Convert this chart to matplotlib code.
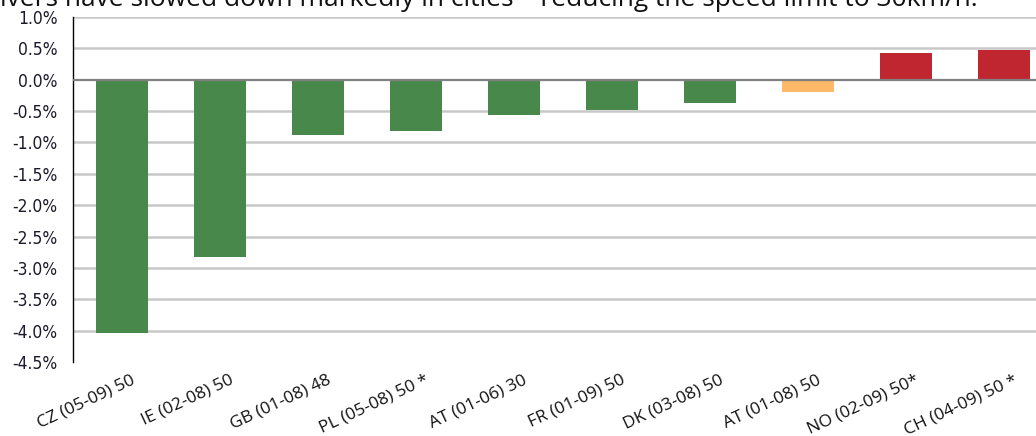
import matplotlib
matplotlib.use("Agg")
import matplotlib.pyplot as plt
import matplotlib.transforms as mtransforms

# Data (change in mean speed, %)
labels = ["CZ (05-09) 50", "IE (02-08) 50", "GB (01-08) 48", "PL (05-08) 50 *",
          "AT (01-06) 30", "FR (01-09) 50", "DK (03-08) 50", "AT (01-08) 50",
          "NO (02-09) 50*", "CH (04-09) 50 *"]
values = [-4.03, -2.83, -0.88, -0.81, -0.57, -0.49, -0.37, -0.19, 0.43, 0.48]
bar_colors = ["#48884a"] * 7 + ["#fdb868", "#c0262f", "#c0262f"]
title = "ivers have slowed down markedly in cities \u2013 reducing the speed limit to 30km/h."

W, H = 1036, 436
fig = plt.figure(figsize=(W / 100, H / 100), dpi=100)
# axes placed in pixel coordinates
left, right, top, bottom = 73, 1036, 17, 362
ax = fig.add_axes([left / W, 1 - bottom / H, (right - left) / W, (bottom - top) / H])

x = range(len(values))
ax.bar(x, values, width=0.53, color=bar_colors, zorder=3)

ax.set_ylim(-4.5, 1.0)
ax.set_xlim(-0.5, -0.5 + (right - left) / 98.0)
yt = [1.0 - 0.5 * i for i in range(12)]
ax.set_yticks(yt)
ax.set_yticklabels([f"{v:.1f}%" for v in yt], fontsize=12.5, family="DejaVu Sans",
                   stretch="condensed", color="#1a1a2a")
for v in yt:
    if abs(v) < 1e-9:
        ax.axhline(v, color="#808080", lw=1.6, zorder=4)
    elif v > -4.5:
        ax.axhline(v, color="#c8c8c8", lw=1.8, zorder=1)

for s in ["top", "right", "bottom"]:
    ax.spines[s].set_visible(False)
ax.spines["left"].set_color("black")
ax.spines["left"].set_linewidth(1.0)
ax.tick_params(axis="y", length=0, pad=11)

ax.set_xticks(list(x))
ax.set_xticklabels(labels, rotation=25, ha="right", rotation_mode="anchor",
                   fontsize=12.5, family="Open Sans", color="#111111")
ax.tick_params(axis="x", length=0, pad=7)
# shift tick labels so they end near the bar centre, as in the original
offset = mtransforms.ScaledTranslation(9 / 100, 0, fig.dpi_scale_trans)
for t in ax.get_xticklabels():
    t.set_transform(t.get_transform() + offset)

fig.text(0.0, 1 - 6 / H, title, fontsize=19, family="Open Sans",
         va="baseline", ha="left", color="#111111")

fig.savefig("out.png", dpi=100)
